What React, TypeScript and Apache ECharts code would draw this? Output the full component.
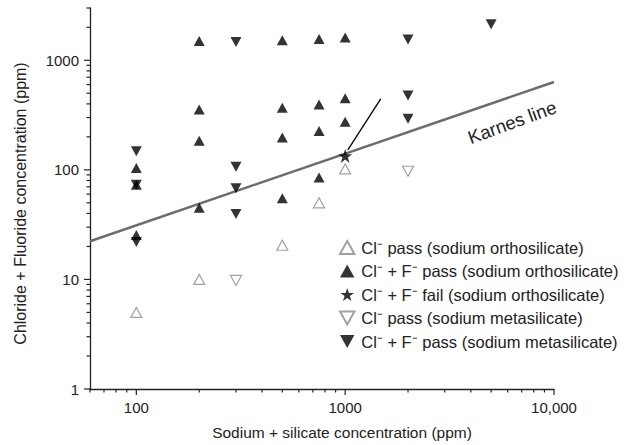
import React, { useEffect, useRef } from "react";
import * as echarts from "echarts";

// ---- data ----
const xRange = [60, 10000];
const yRange = [1, 3000];

const xMajorTicks = [100, 1000, 10000];
const xMinorTicks = [60, 70, 80, 90, 200, 300, 400, 500, 600, 700, 800, 900, 2000, 3000, 4000, 5000, 6000, 7000, 8000, 9000];
const yMajorTicks = [1, 10, 100, 1000];
const yMinorTicks = [2, 3, 4, 5, 6, 7, 8, 9, 20, 30, 40, 50, 60, 70, 80, 90, 200, 300, 400, 500, 600, 700, 800, 900, 2000, 3000];

const seriesNames = [
  "Cl\u207B pass (sodium orthosilicate)",
  "Cl\u207B + F\u207B pass (sodium orthosilicate)",
  "Cl\u207B + F\u207B fail (sodium orthosilicate)",
  "Cl\u207B pass (sodium metasilicate)",
  "Cl\u207B + F\u207B pass (sodium metasilicate)",
];

const orthoClPass = [[100, 5], [200, 10], [500, 20.5], [750, 50], [1000, 102]];
const orthoClFPass = [
  [100, 104], [100, 73], [100, 25.5],
  [200, 1500], [200, 355], [200, 184], [200, 45],
  [500, 1520], [500, 368], [500, 197], [500, 55],
  [750, 1560], [750, 395], [750, 226], [750, 85],
  [1000, 1610], [1000, 450], [1000, 275],
];
const orthoClFFail = [[1000, 134]];
const metaClPass = [[300, 9.8], [2000, 97]];
const metaClFPass = [
  [100, 148], [100, 73], [100, 22],
  [300, 1470], [300, 107], [300, 68], [300, 39.5],
  [2000, 1545], [2000, 478], [2000, 293],
  [5000, 2130],
];

const karnesLine = [[60, 22.3], [10000, 634]];
const karnesLabelPos = [6300, 272];
const arrowFrom = [1480, 445];
const arrowTo = [1030, 152];

const FONT = "'Liberation Sans', Arial, Helvetica, sans-serif";
const TXT = "#222";

const UP = "path://M5,0 L10,9 L0,9 Z";
const DOWN = "path://M0,0 L10,0 L5,9 Z";
const STAR = "path://M50,0 L61.8,35.5 L99,35.5 L69,57.5 L80.5,93 L50,71 L19.5,93 L31,57.5 L1,35.5 L38.2,35.5 Z";

function isPow10(v: number) {
  const l = Math.log10(v);
  return Math.abs(l - Math.round(l)) < 1e-6;
}

export default function App() {
  const ref = useRef<HTMLDivElement>(null);
  useEffect(() => {
    if (!ref.current) return;
    const chart = echarts.init(ref.current, undefined, { renderer: "svg" });

    const xTickData = [
      ...xMajorTicks.map((v) => [v, yRange[0], 6]),
      ...xMinorTicks.map((v) => [v, yRange[0], 3.5]),
    ];
    const yTickData = [
      ...yMajorTicks.map((v) => [xRange[0], v, 6]),
      ...yMinorTicks.map((v) => [xRange[0], v, 3.5]),
    ];

    const option: any = {
      animation: false,
      backgroundColor: "#fff",
      textStyle: { fontFamily: FONT },
      grid: { left: 90, right: 72, top: 8, bottom: 56 },
      xAxis: {
        type: "log",
        logBase: 10,
        min: xRange[0],
        max: xRange[1],
        splitLine: { show: false },
        axisTick: { show: false },
        axisLine: { lineStyle: { color: TXT, width: 1.3 } },
        axisLabel: {
          color: TXT,
          fontSize: 15,
          fontFamily: FONT,
          margin: 11,
          showMinLabel: false,
          formatter: (v: number) => {
            if (!isPow10(v) || v < 99) return "";
            const r = Math.round(v);
            return r >= 10000 ? "10,000" : String(r);
          },
        },
        name: "Sodium + silicate concentration (ppm)",
        nameLocation: "middle",
        nameGap: 35,
        nameTextStyle: { color: TXT, fontSize: 15.5, fontFamily: FONT, padding: [0, 0, 0, 40] },
      },
      yAxis: {
        type: "log",
        logBase: 10,
        min: yRange[0],
        max: yRange[1],
        splitLine: { show: false },
        axisTick: { show: false },
        axisLine: { lineStyle: { color: TXT, width: 1.3 } },
        axisLabel: {
          color: TXT,
          fontSize: 15,
          fontFamily: FONT,
          margin: 11,
          showMaxLabel: false,
          formatter: (v: number) => {
            if (!isPow10(v) || v > 1001) return "";
            return String(Math.round(v));
          },
        },
        name: "Chloride + Fluoride concentration (ppm)",
        nameLocation: "middle",
        nameGap: 62,
        nameTextStyle: { color: TXT, fontSize: 16, fontFamily: FONT, padding: [0, 10, 0, 0] },
      },
      legend: {
        data: seriesNames,
        orient: "vertical",
        left: 334,
        top: 234,
        itemWidth: 18,
        itemHeight: 13,
        itemGap: 6.5,
        textStyle: { color: TXT, fontSize: 16.5, fontFamily: FONT },
        selectedMode: false,
      },
      series: [
        {
          type: "line",
          name: "karnes",
          data: karnesLine,
          symbol: "none",
          silent: true,
          z: 1,
          lineStyle: { color: "#6c6c6c", width: 2.5 },
          markLine: {
            silent: true,
            symbol: ["none", "arrow"],
            symbolSize: [0, 9],
            label: { show: false },
            lineStyle: { color: "#000", width: 1.3, type: "solid" },
            data: [[{ coord: arrowFrom }, { coord: arrowTo }]],
          },
          markPoint: {
            silent: true,
            symbol: "circle",
            symbolSize: 0,
            data: [{ coord: karnesLabelPos }],
            label: {
              show: true,
              position: "inside",
              formatter: "Karnes line",
              rotate: 20,
              color: TXT,
              fontSize: 18.5,
              fontFamily: FONT,
            },
          },
        },
        {
          type: "scatter",
          name: seriesNames[0],
          data: orthoClPass,
          symbol: UP,
          symbolSize: [11, 10],
          z: 3,
          itemStyle: { color: "#fff", borderColor: "#8a8a8a", borderWidth: 1.2 },
        },
        {
          type: "scatter",
          name: seriesNames[1],
          data: orthoClFPass,
          symbol: UP,
          symbolSize: [11, 10],
          z: 3,
          itemStyle: { color: "#000" },
        },
        {
          type: "scatter",
          name: seriesNames[2],
          data: orthoClFFail,
          symbol: STAR,
          symbolSize: 14,
          z: 4,
          itemStyle: { color: "#000" },
        },
        {
          type: "scatter",
          name: seriesNames[3],
          data: metaClPass,
          symbol: DOWN,
          symbolSize: [11, 10],
          z: 3,
          itemStyle: { color: "#fff", borderColor: "#8a8a8a", borderWidth: 1.2 },
        },
        {
          type: "scatter",
          name: seriesNames[4],
          data: metaClFPass,
          symbol: DOWN,
          symbolSize: [11, 10],
          z: 3,
          itemStyle: { color: "#000" },
        },
        {
          type: "custom",
          name: "xticks",
          silent: true,
          clip: false,
          data: xTickData,
          renderItem: (params: any, api: any) => {
            const p = api.coord([api.value(0), api.value(1)]);
            const len = api.value(2);
            return {
              type: "line",
              shape: { x1: p[0], y1: p[1], x2: p[0], y2: p[1] + len },
              style: { stroke: TXT, lineWidth: 1.2 },
            };
          },
        },
        {
          type: "custom",
          name: "yticks",
          silent: true,
          clip: false,
          data: yTickData,
          renderItem: (params: any, api: any) => {
            const p = api.coord([api.value(0), api.value(1)]);
            const len = api.value(2);
            return {
              type: "line",
              shape: { x1: p[0], y1: p[1], x2: p[0] - len, y2: p[1] },
              style: { stroke: TXT, lineWidth: 1.2 },
            };
          },
        },
      ],
    };
    chart.setOption(option);
    return () => chart.dispose();
  }, []);
  return (
    <div
      ref={ref}
      style={{ position: "fixed", left: 0, top: 0, width: 626, height: 445, overflow: "hidden" }}
    />
  );
}
